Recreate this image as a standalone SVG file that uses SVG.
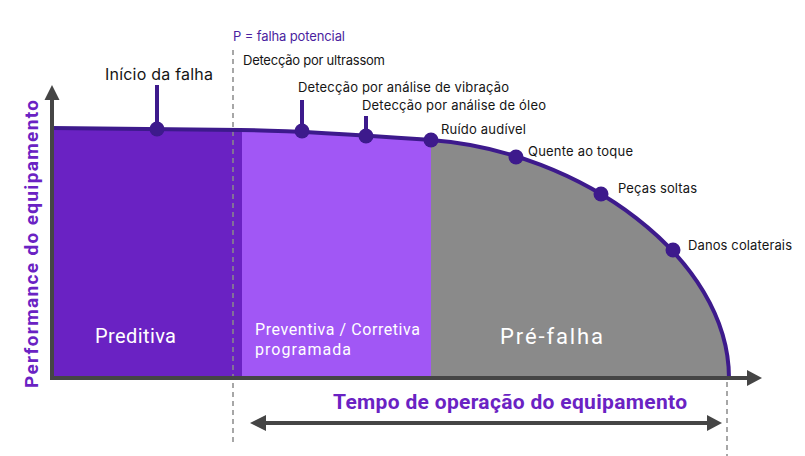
<svg xmlns="http://www.w3.org/2000/svg" width="805" height="456" viewBox="0 0 805 456">
<style>
.lbl{font-family:Inter,"Open Sans","Liberation Sans",sans-serif;font-size:13px;fill:#151515}
.big{font-family:Inter,"Open Sans","Liberation Sans",sans-serif;font-size:16px;fill:#151515}
.reg{font-family:Roboto,"Liberation Sans",sans-serif;fill:#fff}
.ttl{font-family:Roboto,"Liberation Sans",sans-serif;font-weight:bold;fill:#6a22c3}
.curve{fill:none;stroke:#3d1a8c;stroke-width:4}
.lead{stroke:#3d1a8c;stroke-width:4}
.dot{fill:#3d1a8c}
.axis{stroke:#454545;stroke-width:4;fill:none}
.head{fill:#454545}
.dash{stroke:#8a8a8a;stroke-width:1.5;stroke-dasharray:5 4;fill:none}
</style>
<defs>
<clipPath id="area">
<path d="M52,128 L240,130 C300,130.3 376,136 431,140 C581,151 729,258 729,378 L52,378 Z"/>
</clipPath>
</defs>
<g id="regions" clip-path="url(#area)">
<rect x="52" y="100" width="190" height="280" fill="#6a22c3"/>
<rect x="242" y="100" width="189" height="280" fill="#a157f5"/>
<rect x="431" y="100" width="300" height="280" fill="#8a8a8a"/>
</g>
<g id="dashed">
<line class="dash" x1="233" y1="50" x2="233" y2="446"/>
<line class="dash" x1="727" y1="382" x2="727" y2="456"/>
</g>
<g id="connectors">
<path class="curve" d="M52,128 L240,130 C300,130.3 376,136 431,140 C581,151 729,258 729,378"/>
<line class="lead" x1="157" y1="129" x2="157" y2="85"/>
<line class="lead" x1="302" y1="131" x2="302" y2="100"/>
<line class="lead" x1="366" y1="136" x2="366" y2="116"/>
</g>
<g id="axes">
<line class="axis" x1="52" y1="98" x2="52" y2="380"/>
<polygon class="head" points="52,85 59.5,100 44.5,100"/>
<line class="axis" x1="50" y1="378" x2="749" y2="378"/>
<polygon class="head" points="762,378 747,370 747,386"/>
<line class="axis" x1="264" y1="423" x2="709" y2="423"/>
<polygon class="head" points="250,423 266,415 266,431"/>
<polygon class="head" points="722,423 707,415 707,431"/>
</g>
<g id="dots">
<circle class="dot" cx="157" cy="129" r="7.5"/>
<circle class="dot" cx="302" cy="131" r="7.5"/>
<circle class="dot" cx="366" cy="136" r="7.5"/>
<circle class="dot" cx="431" cy="140" r="7.5"/>
<circle class="dot" cx="516" cy="157" r="7.5"/>
<circle class="dot" cx="601" cy="194" r="7.5"/>
<circle class="dot" cx="673" cy="250" r="7.5"/>
</g>
<g id="labels">
<text class="big" x="105" y="80" textLength="108">Início da falha</text>
<text class="lbl" x="233" y="41" textLength="112" style="fill:#4b1fa0">P = falha potencial</text>
<text class="lbl" x="243" y="65" textLength="142">Detecção por ultrassom</text>
<text class="lbl" x="298" y="92" textLength="211">Detecção por análise de vibração</text>
<text class="lbl" x="362" y="110" textLength="184">Detecção por análise de óleo</text>
<text class="lbl" x="441" y="134" textLength="85">Ruído audível</text>
<text class="lbl" x="528" y="156" textLength="105">Quente ao toque</text>
<text class="lbl" x="618" y="193" textLength="79">Peças soltas</text>
<text class="lbl" x="688" y="250" textLength="104">Danos colaterais</text>
</g>
<g id="region-labels">
<text class="reg" x="95" y="343" font-size="20" textLength="81">Preditiva</text>
<text class="reg" x="255" y="335" font-size="16" textLength="165">Preventiva / Corretiva</text>
<text class="reg" x="255" y="355" font-size="16" textLength="96">programada</text>
<text class="reg" x="500" y="344" font-size="22" textLength="103">Pré-falha</text>
</g>
<g id="titles">
<text class="ttl" x="333" y="409" font-size="21" textLength="354">Tempo de operação do equipamento</text>
<text class="ttl" transform="translate(38,244) rotate(-90)" text-anchor="middle" font-size="19" textLength="288">Performance do equipamento</text>
</g>
</svg>
